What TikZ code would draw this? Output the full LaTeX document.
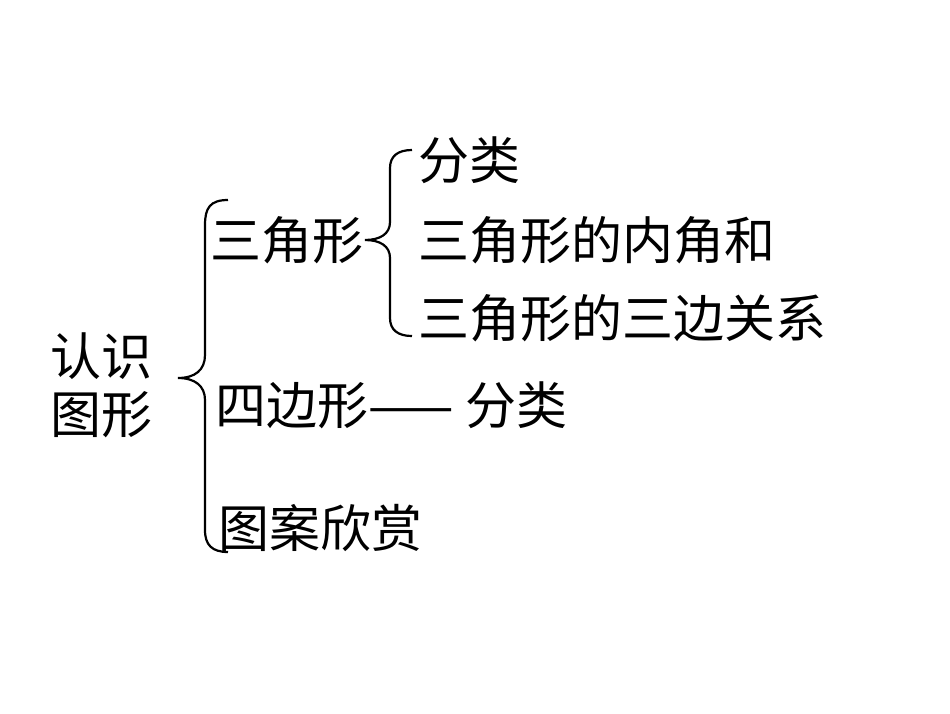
\documentclass[tikz,border=0pt]{standalone}
\usepackage{fontspec}
\newfontfamily\cjk{Noto Sans CJK SC}
\begin{document}
\begin{tikzpicture}[x=1pt,y=-1pt,
  t/.style={font=\cjk\fontsize{51}{58}\selectfont,anchor=west,inner sep=0pt},
  br/.style={line width=2.2pt}]
\useasboundingbox (0,0) rectangle (950,713);
\node[t,align=left] (root) at (50,385) {认识\\图形};
\node[t] (a) at (210,240) {三角形};
\node[t] (a1) at (418,160) {分类};
\node[t] (a2) at (418,240) {三角形的内角和};
\node[t] (a3) at (418,318) {三角形的三边关系};
\node[t] (b) at (215,405) {四边形—— 分类};
\node[t] (c) at (218,528) {图案欣赏};
% big brace
\draw[br] (228,200) .. controls (210,200) and (205,208) .. (205,225)
  -- (205,355) .. controls (205,370) and (195,378) .. (178,378)
  .. controls (195,378) and (205,386) .. (205,400)
  -- (205,530) .. controls (205,545) and (212,552) .. (228,552);
% small brace
\draw[br] (412,150) .. controls (398,150) and (390,156) .. (390,168)
  -- (390,222) .. controls (390,234) and (380,240) .. (365,240)
  .. controls (380,240) and (390,246) .. (390,258)
  -- (390,318) .. controls (390,330) and (398,336) .. (412,336);
\end{tikzpicture}
\end{document}
